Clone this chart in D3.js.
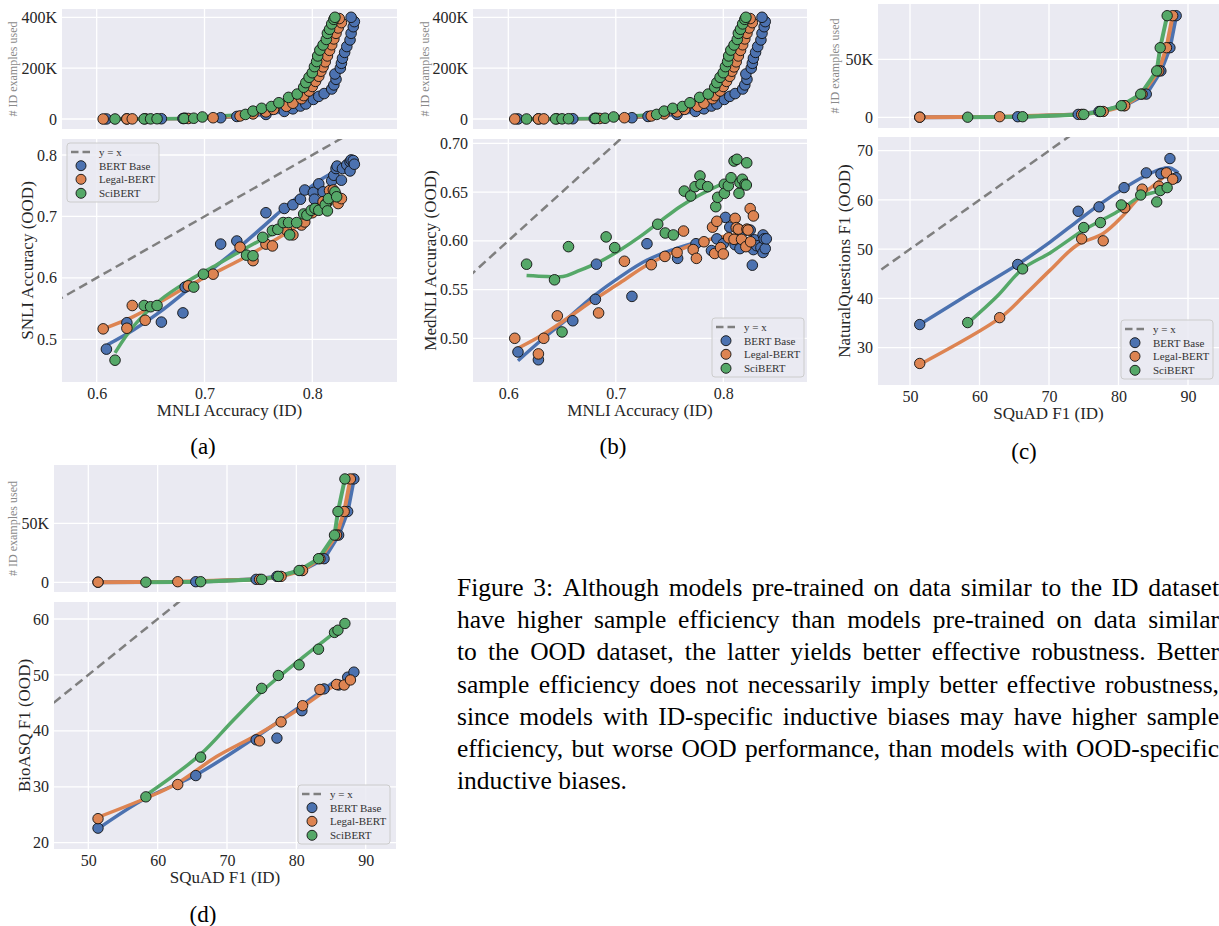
<!DOCTYPE html>
<html><head><meta charset="utf-8">
<script src="https://cdn.jsdelivr.net/npm/d3@7"></script>
<style>body{margin:0;background:#fff} svg{display:block} text{font-family:"Liberation Serif","Times New Roman",serif}</style>
</head><body><svg id="c" width="1219" height="926"></svg>
<script>
// ---------------- DATA ----------------
const seriesNames = ["BERT Base", "Legal-BERT", "SciBERT"];
const seriesColors = ["#4C72B0", "#DD8452", "#55A868"];

// MNLI: # ID examples used (thousands) vs MNLI accuracy (shared by panels a and b, top)
const nliTopBert = [[0.609,0.2],[0.628,0.5],[0.660,1],[0.680,2],[0.682,3],[0.715,5],[0.730,10],[0.757,18],[0.774,30],[0.782,40],[0.789,51],[0.794,59],[0.801,77],[0.806,89],[0.811,100],[0.818,118],[0.820,134],[0.822,156],[0.821,177],[0.826,200],[0.827,219],[0.828,239],[0.830,262],[0.832,285],[0.835,311],[0.836,337],[0.838,363],[0.839,383],[0.836,400]];
const nliTopLegal = [[0.606,0],[0.628,0.3],[0.633,0.5],[0.645,1],[0.685,2],[0.708,5],[0.733,12],[0.745,20],[0.757,28],[0.764,38],[0.776,50],[0.782,62],[0.790,80],[0.792,92],[0.797,110],[0.800,128],[0.803,148],[0.806,168],[0.808,188],[0.810,205],[0.812,225],[0.814,248],[0.816,270],[0.818,292],[0.820,315],[0.822,337],[0.824,358],[0.827,379],[0.825,395]];
const nliTopSci = [[0.617,0],[0.644,0.3],[0.650,0.6],[0.656,1],[0.681,2],[0.690,3],[0.698,8],[0.738,18],[0.745,31],[0.753,42],[0.762,49],[0.769,64],[0.778,85],[0.786,98],[0.792,125],[0.794,143],[0.797,164],[0.800,182],[0.802,206],[0.804,226],[0.805,248],[0.807,271],[0.810,291],[0.813,313],[0.814,337],[0.816,353],[0.818,374],[0.820,392],[0.821,400]];

// (a) SNLI accuracy (OOD) vs MNLI accuracy (ID)
const snliBert = [[0.609,0.484],[0.628,0.527],[0.660,0.528],[0.680,0.543],[0.682,0.585],[0.715,0.655],[0.730,0.660],[0.757,0.706],[0.774,0.713],[0.782,0.719],[0.789,0.728],[0.793,0.743],[0.801,0.739],[0.802,0.728],[0.806,0.753],[0.810,0.740],[0.818,0.758],[0.820,0.767],[0.822,0.778],[0.823,0.782],[0.827,0.759],[0.828,0.778],[0.832,0.784],[0.835,0.789],[0.835,0.774],[0.836,0.792],[0.838,0.791],[0.839,0.785]];
const snliLegal = [[0.606,0.517],[0.628,0.518],[0.633,0.555],[0.645,0.531],[0.685,0.587],[0.708,0.606],[0.733,0.650],[0.745,0.628],[0.757,0.655],[0.763,0.652],[0.776,0.678],[0.782,0.670],[0.790,0.686],[0.793,0.691],[0.800,0.706],[0.806,0.712],[0.810,0.724],[0.813,0.721],[0.816,0.742],[0.8195,0.743],[0.822,0.735],[0.824,0.721],[0.827,0.729]];
const snliSci = [[0.617,0.466],[0.644,0.555],[0.650,0.553],[0.656,0.555],[0.690,0.585],[0.699,0.606],[0.739,0.637],[0.745,0.636],[0.754,0.666],[0.763,0.677],[0.768,0.679],[0.773,0.690],[0.778,0.690],[0.779,0.670],[0.7855,0.690],[0.792,0.704],[0.795,0.702],[0.799,0.710],[0.8025,0.713],[0.806,0.710],[0.812,0.719],[0.814,0.709],[0.815,0.729],[0.821,0.740],[0.8226,0.732]];
const snliTrendBert = [[0.610,0.491],[0.634,0.515],[0.659,0.545],[0.684,0.580],[0.708,0.615],[0.733,0.651],[0.758,0.689],[0.776,0.717],[0.795,0.743],[0.807,0.759],[0.822,0.774]];
const snliTrendLegal = [[0.606,0.517],[0.634,0.537],[0.659,0.561],[0.684,0.586],[0.708,0.607],[0.733,0.629],[0.758,0.654],[0.783,0.681],[0.801,0.705],[0.816,0.721],[0.829,0.730]];
const snliTrendSci = [[0.617,0.478],[0.634,0.521],[0.659,0.564],[0.684,0.594],[0.708,0.618],[0.733,0.643],[0.758,0.667],[0.783,0.688],[0.801,0.705],[0.820,0.724]];

// (b) MedNLI accuracy (OOD) vs MNLI accuracy (ID)
const mednliBert = [[0.609,0.486],[0.628,0.478],[0.660,0.518],[0.681,0.540],[0.682,0.576],[0.715,0.543],[0.729,0.597],[0.7575,0.582],[0.7746,0.597],[0.789,0.590],[0.794,0.602],[0.802,0.624],[0.800,0.597],[0.806,0.614],[0.811,0.596],[0.8155,0.611],[0.818,0.609],[0.8155,0.592],[0.825,0.611],[0.826,0.597],[0.827,0.575],[0.829,0.601],[0.828,0.591],[0.831,0.595],[0.835,0.593],[0.837,0.606],[0.838,0.602],[0.837,0.588],[0.839,0.592],[0.840,0.602]];
const mednliLegal = [[0.606,0.500],[0.628,0.484],[0.633,0.500],[0.6456,0.523],[0.684,0.526],[0.708,0.579],[0.733,0.5755],[0.7457,0.584],[0.757,0.588],[0.763,0.610],[0.772,0.591],[0.775,0.582],[0.782,0.599],[0.790,0.614],[0.794,0.620],[0.792,0.587],[0.7975,0.593],[0.800,0.5865],[0.805,0.603],[0.811,0.623],[0.812,0.6135],[0.814,0.612],[0.810,0.6015],[0.817,0.6015],[0.822,0.612],[0.823,0.611],[0.821,0.594],[0.825,0.633],[0.828,0.6255],[0.8254,0.599]];
const mednliSci = [[0.617,0.576],[0.643,0.560],[0.650,0.5065],[0.656,0.594],[0.691,0.604],[0.699,0.593],[0.739,0.617],[0.746,0.608],[0.7535,0.606],[0.7637,0.651],[0.7697,0.646],[0.7737,0.6555],[0.7783,0.6665],[0.7793,0.658],[0.7855,0.6555],[0.793,0.635],[0.7948,0.6446],[0.801,0.658],[0.801,0.6487],[0.8047,0.6565],[0.8072,0.6647],[0.810,0.6818],[0.8127,0.6836],[0.8146,0.6487],[0.8155,0.6596],[0.8177,0.6631],[0.8202,0.658],[0.8214,0.6572],[0.8218,0.680]];
const mednliTrendBert = [[0.609,0.477],[0.6295,0.497],[0.6543,0.5195],[0.679,0.543],[0.704,0.563],[0.7287,0.580],[0.7535,0.591],[0.777,0.599]];
const mednliTrendLegal = [[0.606,0.488],[0.6295,0.502],[0.6543,0.520],[0.679,0.539],[0.704,0.557],[0.7287,0.575],[0.7535,0.588],[0.778,0.5985],[0.797,0.6036],[0.8155,0.607],[0.829,0.610]];
const mednliTrendSci = [[0.617,0.5643],[0.636,0.5633],[0.651,0.5633],[0.6636,0.5684],[0.6853,0.5787],[0.704,0.5906],[0.7225,0.6043],[0.741,0.6197],[0.7597,0.635],[0.778,0.647],[0.797,0.6573],[0.809,0.6624]];

// SQuAD: shared ID F1 per model, and # ID examples used (thousands)
const squadN = [0.1, 0.5, 2.5, 5, 10, 20, 40, 60, 87.6];
const squadBert = [51.4, 65.5, 74.2, 77.2, 80.8, 84.0, 86.1, 87.4, 88.3];
const squadLegal = [51.4, 62.9, 74.7, 77.8, 80.9, 83.4, 85.8, 86.9, 87.8];
const squadSci = [58.3, 66.2, 75.0, 77.4, 80.4, 83.2, 85.5, 86.0, 87.0];

// (c) NaturalQuestions F1 (OOD)
const nqBert = [34.7, 46.9, 57.7, 58.6, 62.5, 65.5, 65.3, 68.4, 64.5];
const nqLegal = [26.8, 36.1, 52.1, 51.7, 58.4, 62.2, 62.8, 65.5, 64.2];
const nqSci = [35.1, 46.0, 54.4, 55.4, 59.0, 61.0, 59.6, 61.9, 62.5];
const nqTrendBert = [[51.4,34.7],[58.6,41.0],[65.6,47.0],[70.2,51.5],[74.0,55.6],[77.4,59.2],[80.7,62.3],[83.6,64.7],[86.0,66.2],[87.4,66.5],[88.6,65.5]];
const nqTrendLegal = [[51.4,26.6],[63.0,36.1],[66.3,40.4],[70.2,45.8],[74.0,50.8],[77.8,53.2],[80.7,56.9],[83.1,60.7],[85.5,63.4],[87.0,65.1],[87.9,65.1]];
const nqTrendSci = [[58.4,35.1],[62.5,40.4],[66.2,46.0],[70.2,49.3],[75.0,53.9],[77.6,55.9],[80.2,57.9],[83.1,60.7],[85.5,61.7],[87.2,62.6]];

// (d) BioASQ F1 (OOD)
const bioBert = [22.6, 32.0, 38.4, 38.7, 43.6, 47.5, 48.2, 49.6, 50.5];
const bioLegal = [24.3, 30.4, 38.2, 41.6, 44.5, 47.4, 48.3, 48.2, 49.1];
const bioSci = [28.2, 35.3, 47.6, 49.9, 51.8, 54.6, 57.6, 58.0, 59.2];
const bioTrendBert = [[51.3,22.4],[58.2,27.9],[65.5,32.1],[74.3,39.0],[80.5,44.3],[85.8,49.1]];
const bioTrendLegal = [[51.3,24.5],[58.2,27.9],[62.8,30.6],[68.5,35.4],[74.8,39.6],[80.5,44.0],[85.3,47.9],[87.5,48.6]];
const bioTrendSci = [[58.2,28.4],[66.1,35.7],[70.9,41.9],[75.0,47.0],[80.5,52.7],[85.3,57.4],[87.0,59.2]];

const nliXTicks = [0.6, 0.7, 0.8];
const sqXTicks = [50, 60, 70, 80, 90];
const nliTopYTicks = [0, 200, 400];
const sqTopYTicks = [0, 50];
const snliYTicks = [0.5, 0.6, 0.7, 0.8];
const mednliYTicks = [0.50, 0.55, 0.60, 0.65, 0.70];
const nqYTicks = [30, 40, 50, 60, 70];
const bioYTicks = [20, 30, 40, 50, 60];

const captionLines = [
 "Figure 3: Although models pre-trained on data similar to the ID dataset",
 "have higher sample efficiency than models pre-trained on data similar",
 "to the OOD dataset, the latter yields better effective robustness.  Better",
 "sample efficiency does not necessarily imply better effective robustness,",
 "since models with ID-specific inductive biases may have higher sample",
 "efficiency, but worse OOD performance, than models with OOD-specific",
 "inductive biases."
];

// ---------------- DRAWING ----------------
const svg = d3.select("#c");
const FONT = "Liberation Serif, Times New Roman, serif";
let clipN = 0;
const kFmt = d => d === 0 ? "0" : d + "K";

function makePanel(o) {
  const g = svg.append("g");
  const id = "clip" + (clipN++);
  svg.append("clipPath").attr("id", id).append("rect")
    .attr("x", o.L).attr("y", o.T).attr("width", o.R - o.L).attr("height", o.B - o.T);
  const x = d3.scaleLinear().domain(o.xCal).range(o.xPx);
  const y = d3.scaleLinear().domain(o.yCal).range(o.yPx);
  g.append("rect").attr("x", o.L).attr("y", o.T).attr("width", o.R - o.L).attr("height", o.B - o.T).attr("fill", "#EAEAF2");
  g.selectAll(null).data(o.xTicks).join("line")
    .attr("x1", d => x(d)).attr("x2", d => x(d)).attr("y1", o.T).attr("y2", o.B)
    .attr("stroke", "#fff").attr("stroke-width", 1.3);
  g.selectAll(null).data(o.yTicks).join("line")
    .attr("y1", d => y(d)).attr("y2", d => y(d)).attr("x1", o.L).attr("x2", o.R)
    .attr("stroke", "#fff").attr("stroke-width", 1.3);
  const ya = d3.axisLeft(y).tickValues(o.yTicks).tickFormat(o.yFmt).tickSize(0).tickPadding(5);
  g.append("g").attr("transform", `translate(${o.L},0)`).call(ya)
    .call(a => a.select(".domain").remove())
    .attr("font-size", 16).attr("font-family", FONT).attr("color", "#262626");
  if (o.xLabels) {
    const xa = d3.axisBottom(x).tickValues(o.xTicks).tickFormat(o.xFmt).tickSize(0).tickPadding(6);
    g.append("g").attr("transform", `translate(0,${o.B})`).call(xa)
      .call(a => a.select(".domain").remove())
      .attr("font-size", 16).attr("font-family", FONT).attr("color", "#262626");
  }
  if (o.xTitle) {
    g.append("text").attr("x", (o.L + o.R) / 2).attr("y", o.B + 34).attr("text-anchor", "middle")
      .attr("font-size", 17).attr("fill", "#262626").text(o.xTitle);
  }
  if (o.yTitle) {
    g.append("text").attr("transform", `translate(${o.yTitleX},${(o.T + o.B) / 2}) rotate(-90)`)
      .attr("text-anchor", "middle").attr("dominant-baseline", "central")
      .attr("font-size", o.yTitleSize).attr("fill", o.yTitleColor).text(o.yTitle);
  }
  const plot = g.append("g").attr("clip-path", `url(#${id})`);
  return { g, plot, x, y };
}

function diag(p) {
  const [a, b] = p.x.domain().concat(p.y.domain());
  const lo = -10, hi = 200;
  p.plot.append("line").attr("x1", p.x(lo)).attr("y1", p.y(lo)).attr("x2", p.x(hi)).attr("y2", p.y(hi))
    .attr("stroke", "#7f7f7f").attr("stroke-width", 2.5).attr("stroke-dasharray", "9,5");
}

function drawLine(p, pts, color, w, smooth) {
  const line = d3.line().x(d => p.x(d[0])).y(d => p.y(d[1]))
    .curve(smooth ? d3.curveCatmullRom.alpha(0.5) : d3.curveLinear);
  p.plot.append("path").attr("d", line(pts)).attr("fill", "none")
    .attr("stroke", color).attr("stroke-width", w).attr("stroke-linejoin", "round").attr("stroke-linecap", "butt");
}

function drawPoints(p, pts, color, r) {
  p.plot.append("g").selectAll("circle").data(pts).join("circle")
    .attr("cx", d => p.x(d[0])).attr("cy", d => p.y(d[1])).attr("r", r)
    .attr("fill", color).attr("stroke", "#111").attr("stroke-width", 0.9);
}

function legend(x0, y0) {
  const g = svg.append("g");
  g.append("rect").attr("x", x0).attr("y", y0).attr("width", 92).attr("height", 59).attr("rx", 3)
    .attr("fill", "#EAEAF2").attr("fill-opacity", 0.85).attr("stroke", "#cccccc").attr("stroke-width", 1);
  const rows = [9, 22.7, 36.3, 50.3];
  g.append("line").attr("x1", x0 + 4).attr("x2", x0 + 24).attr("y1", y0 + rows[0]).attr("y2", y0 + rows[0])
    .attr("stroke", "#7f7f7f").attr("stroke-width", 2.5).attr("stroke-dasharray", "7.5,4");
  g.append("text").attr("x", x0 + 32).attr("y", y0 + rows[0]).attr("dominant-baseline", "central")
    .attr("font-size", 11).attr("fill", "#333").text("y = x");
  seriesNames.forEach((n, i) => {
    g.append("circle").attr("cx", x0 + 14).attr("cy", y0 + rows[i + 1]).attr("r", 5)
      .attr("fill", seriesColors[i]).attr("stroke", "#111").attr("stroke-width", 0.9);
    g.append("text").attr("x", x0 + 32).attr("y", y0 + rows[i + 1]).attr("dominant-baseline", "central")
      .attr("font-size", 11).attr("fill", "#333").text(n);
  });
}

const topTitle = { yTitle: "# ID examples used", yTitleSize: 12, yTitleColor: "#8a8a8a" };

// ---- (a) top
const aTop = makePanel(Object.assign({ L: 62, R: 397, T: 9, B: 129, xCal: [0.6, 0.8], xPx: [96.7, 312.3],
  yCal: [0, 400], yPx: [119, 17.3], xTicks: nliXTicks, yTicks: nliTopYTicks, yFmt: kFmt, yTitleX: 13 }, topTitle));
// ---- (b) top
const bTop = makePanel(Object.assign({ L: 473, R: 807, T: 9, B: 129, xCal: [0.6, 0.8], xPx: [508.3, 723.3],
  yCal: [0, 400], yPx: [119, 17.3], xTicks: nliXTicks, yTicks: nliTopYTicks, yFmt: kFmt, yTitleX: 425 }, topTitle));
[aTop, bTop].forEach(p => {
  const sets = [nliTopBert, nliTopLegal, nliTopSci];
  sets.forEach((s, i) => drawLine(p, s.slice().sort((u, v) => u[1] - v[1]), seriesColors[i], 3.5, false));
  sets.forEach((s, i) => drawPoints(p, s, seriesColors[i], 5.3));
});

// ---- (a) bottom
const aBot = makePanel({ L: 62, R: 397, T: 139, B: 382, xCal: [0.6, 0.8], xPx: [96.7, 312.3],
  yCal: [0.5, 0.8], yPx: [339.3, 155], xTicks: nliXTicks, yTicks: snliYTicks, yFmt: d3.format(".1f"),
  xLabels: true, xFmt: d3.format(".1f"), xTitle: "MNLI Accuracy (ID)", yTitle: "SNLI Accuracy (OOD)",
  yTitleX: 27, yTitleSize: 17, yTitleColor: "#262626" });
diag(aBot);
[snliTrendBert, snliTrendLegal, snliTrendSci].forEach((s, i) => drawLine(aBot, s, seriesColors[i], 3.5, true));
[snliBert, snliLegal, snliSci].forEach((s, i) => drawPoints(aBot, s, seriesColors[i], 5.3));
legend(67, 143);

// ---- (b) bottom
const bBot = makePanel({ L: 473, R: 807, T: 139, B: 382, xCal: [0.6, 0.8], xPx: [508.3, 723.3],
  yCal: [0.5, 0.7], yPx: [338.3, 143.3], xTicks: nliXTicks, yTicks: mednliYTicks, yFmt: d3.format(".2f"),
  xLabels: true, xFmt: d3.format(".1f"), xTitle: "MNLI Accuracy (ID)", yTitle: "MedNLI Accuracy (OOD)",
  yTitleX: 430, yTitleSize: 17, yTitleColor: "#262626" });
diag(bBot);
[mednliTrendBert, mednliTrendLegal, mednliTrendSci].forEach((s, i) => drawLine(bBot, s, seriesColors[i], 3.5, true));
[mednliBert, mednliLegal, mednliSci].forEach((s, i) => drawPoints(bBot, s, seriesColors[i], 5.3));
legend(712, 318);

// ---- (c) top
const cTop = makePanel(Object.assign({ L: 878, R: 1219, T: 4, B: 128, xCal: [50, 90], xPx: [910, 1188],
  yCal: [0, 50], yPx: [117.3, 59.3], xTicks: sqXTicks, yTicks: sqTopYTicks, yFmt: kFmt, yTitleX: 835 }, topTitle));
// ---- (d) top
const dTop = makePanel(Object.assign({ L: 54, R: 396, T: 465, B: 592, xCal: [50, 90], xPx: [88.3, 365.7],
  yCal: [0, 50], yPx: [582.3, 523.3], xTicks: sqXTicks, yTicks: sqTopYTicks, yFmt: kFmt, yTitleX: 13 }, topTitle));
const sqSets = [squadBert, squadLegal, squadSci];
[cTop, dTop].forEach(p => {
  const sets = sqSets.map(xs => xs.map((v, i) => [v, squadN[i]]));
  sets.forEach((s, i) => drawLine(p, s, seriesColors[i], 4, false));
  sets.forEach((s, i) => drawPoints(p, s, seriesColors[i], 5.2));
});

// ---- (c) bottom
const cBot = makePanel({ L: 878, R: 1219, T: 137, B: 385, xCal: [50, 90], xPx: [910, 1188],
  yCal: [30, 70], yPx: [347.7, 150.7], xTicks: sqXTicks, yTicks: nqYTicks, yFmt: d3.format("d"),
  xLabels: true, xFmt: d3.format("d"), xTitle: "SQuAD F1 (ID)", yTitle: "NaturalQuestions F1 (OOD)",
  yTitleX: 844, yTitleSize: 17, yTitleColor: "#262626" });
diag(cBot);
[nqTrendBert, nqTrendLegal, nqTrendSci].forEach((s, i) => drawLine(cBot, s, seriesColors[i], 3.5, true));
[nqBert, nqLegal, nqSci].forEach((s, i) => drawPoints(cBot, sqSets[i].map((v, j) => [v, s[j]]), seriesColors[i], 5.2));
legend(1121, 320);

// ---- (d) bottom
const dBot = makePanel({ L: 54, R: 396, T: 602, B: 849, xCal: [50, 90], xPx: [88.3, 365.7],
  yCal: [20, 60], yPx: [842.7, 619], xTicks: sqXTicks, yTicks: bioYTicks, yFmt: d3.format("d"),
  xLabels: true, xFmt: d3.format("d"), xTitle: "SQuAD F1 (ID)", yTitle: "BioASQ F1 (OOD)",
  yTitleX: 24, yTitleSize: 17, yTitleColor: "#262626" });
diag(dBot);
[bioTrendBert, bioTrendLegal, bioTrendSci].forEach((s, i) => drawLine(dBot, s, seriesColors[i], 3.5, true));
[bioBert, bioLegal, bioSci].forEach((s, i) => drawPoints(dBot, sqSets[i].map((v, j) => [v, s[j]]), seriesColors[i], 5.2));
legend(298, 785);

// ---- sub-captions
[["(a)", 203, 454], ["(b)", 613, 454], ["(c)", 1024, 459], ["(d)", 203, 922]].forEach(([t, x, y]) => {
  svg.append("text").attr("x", x).attr("y", y).attr("text-anchor", "middle").attr("font-size", 23).attr("fill", "#000").text(t);
});

// ---- figure caption (justified)
const capX = 457, capW = 762, capFS = 25.5;
captionLines.forEach((line, i) => {
  const yb = 596 + i * 32.2;
  const words = line.split(/\s+/);
  if (i === captionLines.length - 1) {
    svg.append("text").attr("x", capX).attr("y", yb).attr("font-size", capFS).attr("fill", "#000").text(line);
    return;
  }
  const widths = words.map(w => {
    const t = svg.append("text").attr("font-size", capFS).text(w);
    const wd = t.node().getComputedTextLength(); t.remove(); return wd;
  });
  const total = d3.sum(widths);
  const gap = (capW - total) / (words.length - 1);
  let xx = capX;
  words.forEach((w, k) => {
    svg.append("text").attr("x", xx).attr("y", yb).attr("font-size", capFS).attr("fill", "#000").text(w);
    xx += widths[k] + gap;
  });
});
</script>
</body></html>
